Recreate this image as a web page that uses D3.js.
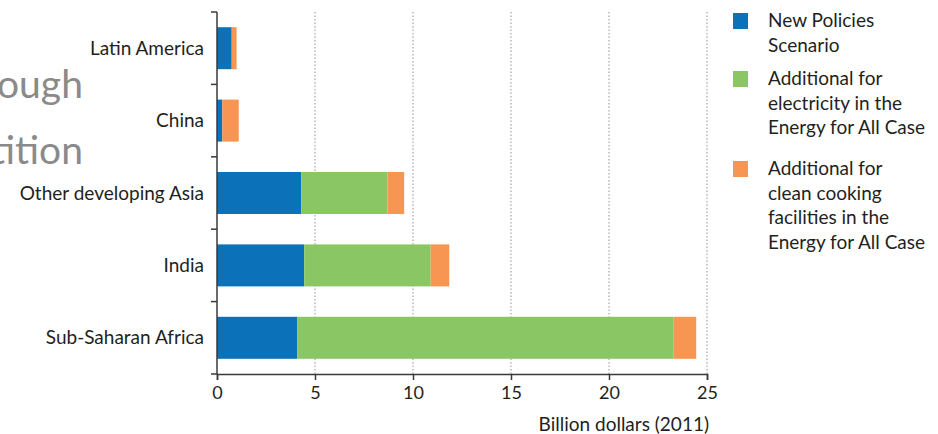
<html>
<head>
<script src="https://d3js.org/d3.v7.min.js"></script>
<style>
  body { margin: 0; background: #fff; }
  text { font-family: Lato, "Open Sans", sans-serif; fill: #231f20; }
</style>
</head>
<body>
<div id="chart"></div>
<script>
var regions = ["Latin America", "China", "Other developing Asia", "India", "Sub-Saharan Africa"];
var newPolicies = [0.75, 0.27, 4.3, 4.45, 4.1];
var addElectricity = [0, 0, 4.4, 6.45, 19.2];
var addCooking = [0.25, 0.84, 0.85, 0.95, 1.15];
var seriesNames = ["New Policies Scenario", "Additional for electricity in the Energy for All Case", "Additional for clean cooking facilities in the Energy for All Case"];
var legendLines = [["New Policies", "Scenario"], ["Additional for", "electricity in the", "Energy for All Case"], ["Additional for", "clean cooking", "facilities in the", "Energy for All Case"]];
var xTicks = [0, 5, 10, 15, 20, 25];
var colors = ["#0b72b9", "#8bc665", "#f79552"];

var width = 938, height = 434;
var svg = d3.select("#chart").append("svg").attr("width", width).attr("height", height);

// faded slide text behind the chart
svg.append("text").attr("x", -3).attr("y", 98).style("font-size", "39px").style("fill", "#8a8a8a").text("ough");
svg.append("text").attr("x", -9).attr("y", 164).style("font-size", "39px").style("fill", "#8a8a8a").text("tition");

var x = d3.scaleLinear().domain([0, 25]).range([217, 707]);
var y = d3.scaleBand().domain(regions).range([12, 374]).paddingInner(0.42).paddingOuter(0.21);

var rows = regions.map(function(r, i) { return {region: r, vals: [newPolicies[i], addElectricity[i], addCooking[i]]}; });
var stack = d3.stack().keys([0, 1, 2]).value(function(d, k) { return d.vals[k]; });
var layers = stack(rows);

// gridlines
svg.append("g").selectAll("line").data(xTicks.slice(1)).enter().append("line")
  .attr("x1", function(d) { return x(d); }).attr("x2", function(d) { return x(d); })
  .attr("y1", 12).attr("y2", 374)
  .attr("stroke", "#a6a6a6").attr("stroke-width", 1.2).attr("stroke-dasharray", "1.5,2");

// bars
svg.append("g").selectAll("g").data(layers).enter().append("g")
  .attr("fill", function(d, i) { return colors[i]; })
  .selectAll("rect").data(function(d) { return d; }).enter().append("rect")
  .attr("x", function(d) { return x(d[0]); })
  .attr("width", function(d) { return x(d[1]) - x(d[0]); })
  .attr("y", function(d) { return y(d.data.region); })
  .attr("height", y.bandwidth());

// x axis
var xAxis = svg.append("g").attr("transform", "translate(0,374)")
  .call(d3.axisBottom(x).tickValues(xTicks).tickSize(6).tickPadding(6));
xAxis.select(".domain").attr("stroke", "#3a3a3a").attr("stroke-width", 1.5);
xAxis.selectAll(".tick line").attr("stroke", "#3a3a3a").attr("stroke-width", 1.5);
xAxis.selectAll("text").style("font-size", "18px").style("font-family", "Lato, sans-serif").attr("fill", "#231f20");

svg.append("text").attr("x", 709).attr("y", 431).attr("text-anchor", "end")
  .style("font-size", "19px").text("Billion dollars (2011)");

// y axis
var yAxisG = svg.append("g").attr("transform", "translate(217,0)");
yAxisG.append("line").attr("x1", 0).attr("x2", 0).attr("y1", 12).attr("y2", 374)
  .attr("stroke", "#3a3a3a").attr("stroke-width", 1.5);
var bounds = regions.map(function(r) { return y(r) - y.step() * y.paddingInner() / 2; }).concat([374]);
bounds[0] = 12;
yAxisG.selectAll(".yt").data(bounds).enter().append("line")
  .attr("x1", -6).attr("x2", 0)
  .attr("y1", function(d) { return d; }).attr("y2", function(d) { return d; })
  .attr("stroke", "#3a3a3a").attr("stroke-width", 1.5);
yAxisG.selectAll(".yl").data(regions).enter().append("text")
  .attr("x", -13).attr("y", function(d) { return y(d) + y.bandwidth() / 2; })
  .attr("dy", "0.35em").attr("text-anchor", "end").style("font-size", "19px")
  .text(function(d) { return d; });

// legend
var legendTop = [13, 71, 161];
var leg = svg.append("g").selectAll("g").data(seriesNames).enter().append("g")
  .attr("transform", function(d, i) { return "translate(733," + legendTop[i] + ")"; });
leg.append("rect").attr("width", 15).attr("height", 16).attr("fill", function(d, i) { return colors[i]; });
leg.append("text").attr("x", 35).attr("y", 14).style("font-size", "19px")
  .selectAll("tspan").data(function(d, i) { return legendLines[i]; }).enter().append("tspan")
  .attr("x", 35).attr("dy", function(d, j) { return j === 0 ? 0 : 24.5; })
  .text(function(d) { return d; });
</script>
</body>
</html>
